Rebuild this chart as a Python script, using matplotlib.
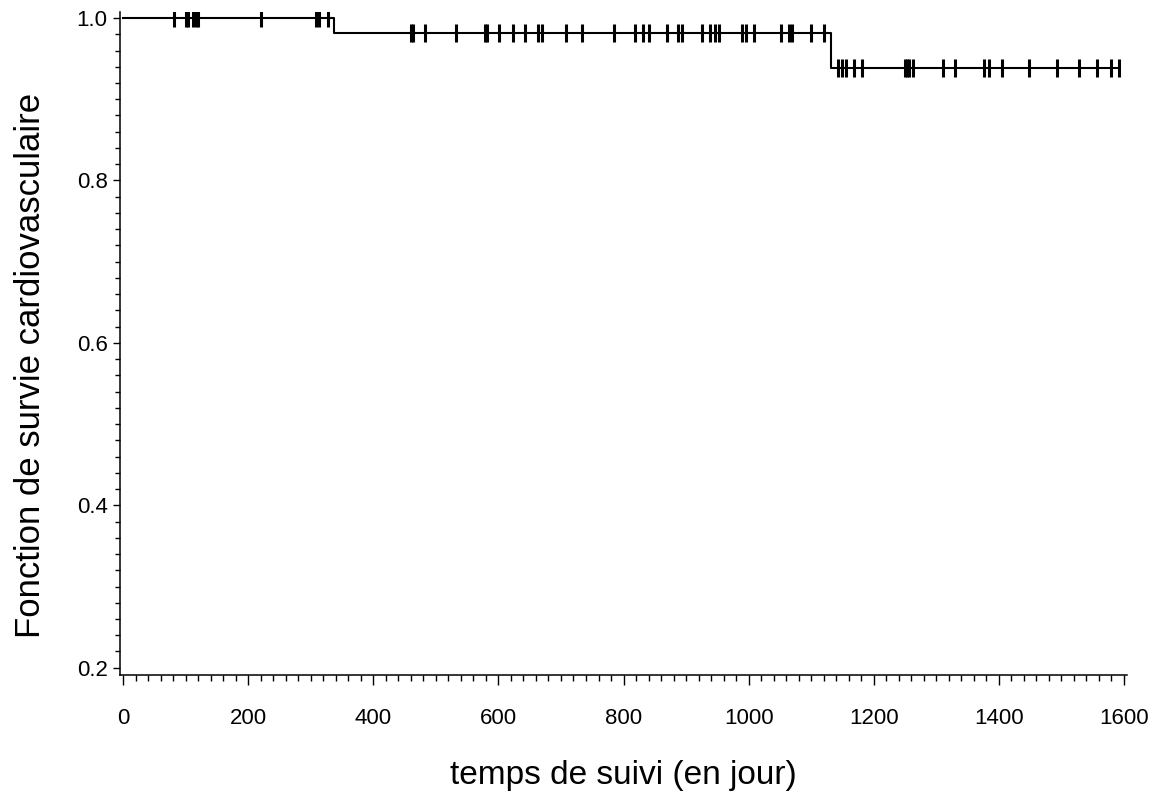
#!/usr/bin/env python

#Importing python libraries
import numpy as np
import matplotlib
matplotlib.use('Agg')
import matplotlib.pyplot as plt
from matplotlib.ticker import MultipleLocator, FormatStrFormatter

#Plot params
fnt = 16
plt.rcParams['font.family'] = ['Liberation Sans', 'DejaVu Sans']

#Kaplan-Meier step data
step_times = [0, 337, 1132, 1592]#days
step_surv = [1.0, 0.9815, 0.938, 0.938]

#Censored observations (days)
censor_times = [82, 101, 104, 112, 116, 119, 220, 308, 313, 327,
                461, 464, 483, 532, 578, 581, 601, 623, 642, 664, 669, 708, 734,
                785, 818, 831, 841, 869, 887, 894, 925, 938, 947, 952, 989, 996,
                1009, 1052, 1065, 1069, 1100, 1121,
                1143, 1150, 1155, 1168, 1182, 1250, 1253, 1256, 1263, 1311, 1330,
                1377, 1384, 1405, 1448, 1493, 1528, 1557, 1579, 1592]

#Survival value at each censor time (step lookup)
idx = np.searchsorted(step_times, censor_times, side = 'right') - 1
censor_surv = np.array(step_surv)[idx]

fig = plt.figure(figsize = (11.55, 7.92), dpi = 100)
ax = fig.add_axes([0.1039, 0.1477, 0.8719, 0.8371])

ax.plot(step_times, step_surv, drawstyle = 'steps-post', color = 'black', linewidth = 1.5)
ax.plot(censor_times, censor_surv, linestyle = 'none', marker = '|', markersize = 12.5,
        markeredgewidth = 2.2, color = 'black')

ax.set_xlim(-5, 1605)
ax.set_ylim(0.191, 1.0074)

ax.xaxis.set_major_locator(MultipleLocator(200))
ax.xaxis.set_minor_locator(MultipleLocator(20))
ax.yaxis.set_major_locator(MultipleLocator(0.2))
ax.yaxis.set_minor_locator(MultipleLocator(0.02))
ax.yaxis.set_major_formatter(FormatStrFormatter('%.1f'))

ax.spines['top'].set_visible(False)
ax.spines['right'].set_visible(False)
for s in ['left', 'bottom']:
    ax.spines[s].set_linewidth(1.1)

ax.tick_params(axis = 'x', which = 'major', direction = 'out', length = 7, width = 1.0, labelsize = fnt, pad = 17)
ax.tick_params(axis = 'x', which = 'minor', direction = 'out', length = 4, width = 1.0)
ax.tick_params(axis = 'y', which = 'major', direction = 'out', length = 5, width = 1.0, labelsize = fnt, pad = 4)
ax.tick_params(axis = 'y', which = 'minor', direction = 'out', length = 3.5, width = 1.0)

ax.set_xlabel('temps de suivi (en jour)', fontsize = 24)
ax.set_ylabel('Fonction de survie cardiovasculaire', fontsize = 25)
ax.xaxis.set_label_coords(0.5, -0.128)
ax.yaxis.set_label_coords(-0.072, 0.4676)

plt.savefig('out.png', dpi = 100)
